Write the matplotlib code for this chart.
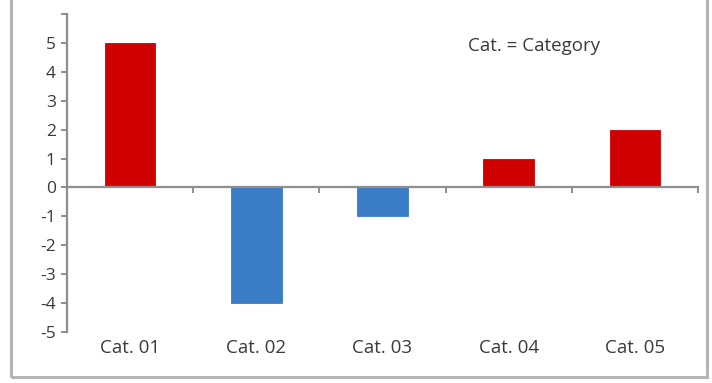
import numpy as np
import matplotlib.pyplot as plt
from matplotlib.patches import Rectangle

categories = ["Cat. 01", "Cat. 02", "Cat. 03", "Cat. 04", "Cat. 05"]
values = [5, -4, -1, 1, 2]
y_ticks = list(range(-5, 7))
y_labels = [str(v) for v in range(-5, 6)] + [""]
note = "Cat. = Category"

RED = "#D10000"
BLUE = "#3B7CC6"
AXIS = "#8E8E8E"
TEXT = "#3A3A3A"

plt.rcParams["font.family"] = ["Open Sans", "DejaVu Sans"]


def main():
    fig = plt.figure(figsize=(7.12, 3.83), dpi=100)
    ax = fig.add_axes([67 / 712, 51 / 383, 631 / 712, 318 / 383])

    x = np.arange(len(categories))
    colors = [RED if v >= 0 else BLUE for v in values]
    ax.bar(x, values, width=0.4, color=colors, edgecolor=colors, linewidth=0.6, zorder=2)

    ax.set_xlim(-0.5, len(categories) - 0.5)
    ax.set_ylim(-5, 6)

    # axe des x au niveau de zéro
    for s in ("top", "right"):
        ax.spines[s].set_visible(False)
    ax.spines["bottom"].set_position(("data", 0))
    ax.spines["bottom"].set_color(AXIS)
    ax.spines["bottom"].set_linewidth(1.6)
    ax.spines["bottom"].set_zorder(3)
    ax.spines["left"].set_color(AXIS)
    ax.spines["left"].set_linewidth(1.6)

    ax.set_xticks(x)
    ax.set_xticks(np.arange(len(categories) + 1) - 0.5, minor=True)
    ax.tick_params(axis="x", which="major", length=0, labelbottom=False)
    ax.tick_params(axis="x", which="minor", length=4, width=1.4, color=AXIS, direction="out")

    ax.set_yticks(y_ticks)
    ax.set_yticklabels(y_labels)
    ax.tick_params(axis="y", length=4, width=1.4, color=AXIS, labelcolor=TEXT,
                   labelsize=12.5, pad=4)

    # étiquettes des catégories en bas du graphique
    sec = ax.secondary_xaxis("bottom")
    sec.set_xticks(x)
    sec.set_xticklabels(categories)
    sec.spines["bottom"].set_visible(False)
    sec.tick_params(length=0, labelsize=13.5, labelcolor=TEXT, pad=5)

    ax.text(0.636, 0.9, note, transform=ax.transAxes, fontsize=13.5, color=TEXT,
            va="center", ha="left")

    # cadre extérieur
    fig.patches.append(Rectangle((11 / 712, 6 / 383), 696 / 712, 1.2, transform=fig.transFigure,
                                 fill=False, edgecolor="#B5B5B5", linewidth=2.2))

    fig.savefig("out.png", dpi=100)


if __name__ == "__main__":
    main()
